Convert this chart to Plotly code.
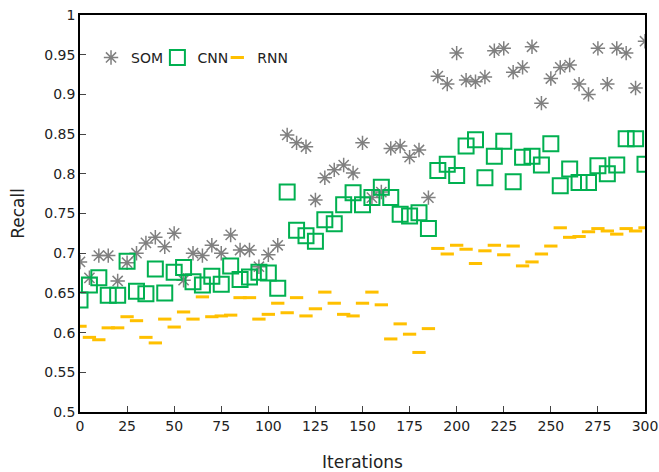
import plotly.graph_objects as go

iterations = list(range(0, 301, 5))

som = [0.689, 0.669, 0.697, 0.697, 0.665, 0.688, 0.700, 0.713, 0.720, 0.708,
       0.725, 0.666, 0.700, 0.697, 0.710, 0.700, 0.723, 0.704, 0.704, 0.683,
       0.698, 0.710, 0.849, 0.839, 0.834, 0.767, 0.795, 0.805, 0.811, 0.801,
       0.839, 0.770, 0.777, 0.832, 0.835, 0.821, 0.830, 0.770, 0.923, 0.913,
       0.952, 0.918, 0.916, 0.922, 0.955, 0.958, 0.928, 0.934, 0.960, 0.889,
       0.920, 0.934, 0.937, 0.913, 0.900, 0.958, 0.913, 0.958, 0.952, 0.908,
       0.967]

cnn = [0.641, 0.660, 0.669, 0.647, 0.647, 0.690, 0.652, 0.649, 0.680, 0.650,
       0.676, 0.682, 0.664, 0.660, 0.671, 0.661, 0.684, 0.667, 0.670, 0.676,
       0.675, 0.656, 0.777, 0.729, 0.722, 0.715, 0.742, 0.737, 0.761, 0.776,
       0.761, 0.770, 0.783, 0.770, 0.749, 0.747, 0.751, 0.731, 0.804, 0.812,
       0.798, 0.835, 0.843, 0.795, 0.822, 0.841, 0.790, 0.821, 0.822, 0.811,
       0.838, 0.785, 0.806, 0.789, 0.789, 0.810, 0.800, 0.811, 0.844, 0.844,
       0.812]

rnn = [0.608, 0.594, 0.591, 0.606, 0.606, 0.620, 0.615, 0.594, 0.587, 0.617,
       0.607, 0.626, 0.617, 0.645, 0.620, 0.621, 0.622, 0.644, 0.644, 0.617,
       0.623, 0.637, 0.625, 0.644, 0.621, 0.630, 0.651, 0.637, 0.623, 0.621,
       0.637, 0.651, 0.635, 0.592, 0.611, 0.598, 0.575, 0.605, 0.706, 0.699,
       0.710, 0.705, 0.687, 0.703, 0.710, 0.698, 0.709, 0.684, 0.689, 0.699,
       0.709, 0.732, 0.720, 0.721, 0.727, 0.731, 0.728, 0.724, 0.731, 0.728,
       0.732]

x_ticks = list(range(0, 301, 25))
y_ticks = [0.5, 0.55, 0.6, 0.65, 0.7, 0.75, 0.8, 0.85, 0.9, 0.95, 1]
y_tick_labels = ["0.5", "0.55", "0.6", "0.65", "0.7", "0.75", "0.8", "0.85", "0.9", "0.95", "1"]

fig = go.Figure()
fig.add_trace(go.Scatter(
    x=iterations, y=som, mode="markers", name="SOM", legend="legend",
    marker=dict(symbol="asterisk-open", size=12, color="#808080",
                line=dict(color="#808080", width=1.5)),
))
fig.add_trace(go.Scatter(
    x=iterations, y=cnn, mode="markers", name="CNN", legend="legend2",
    marker=dict(symbol="square-open", size=15, color="#00b050",
                line=dict(color="#00b050", width=2)),
))
fig.add_trace(go.Scatter(
    x=iterations, y=rnn, mode="markers", name="RNN", legend="legend3",
    marker=dict(symbol="line-ew-open", size=9.5, color="#ffc000",
                line=dict(color="#ffc000", width=3)),
))

font_family = "DejaVu Sans, Verdana, sans-serif"
leg_common = dict(orientation="h", y=0.892, xanchor="left", yanchor="middle",
                  bgcolor="rgba(0,0,0,0)", font=dict(size=14), itemwidth=30)

fig.update_layout(
    width=659, height=472,
    margin=dict(l=80, r=14, t=15, b=60),
    paper_bgcolor="white", plot_bgcolor="white",
    font=dict(family=font_family, size=14, color="#222222"),
    showlegend=True,
    legend=dict(x=0.0195, **leg_common),
    legend2=dict(x=0.137, **leg_common),
    legend3=dict(x=0.243, **leg_common),
    xaxis=dict(range=[0, 300], tickvals=x_ticks, ticks="inside", ticklen=6,
               showline=True, linecolor="black", linewidth=1.5, mirror=True,
               showgrid=False, zeroline=False, automargin=False,
               title=dict(text="Iterations", standoff=25)),
    yaxis=dict(range=[0.5, 1], tickvals=y_ticks, ticktext=y_tick_labels,
               ticks="inside", ticklen=6,
               showline=True, linecolor="black", linewidth=1.5, mirror=True,
               showgrid=False, zeroline=False, automargin=False,
               title=dict(text="Recall", standoff=15)),
)

fig.write_html(
    "out.html",
    config={"displayModeBar": False},
    post_script="document.body.style.margin='0';document.documentElement.style.overflow='hidden';",
)
